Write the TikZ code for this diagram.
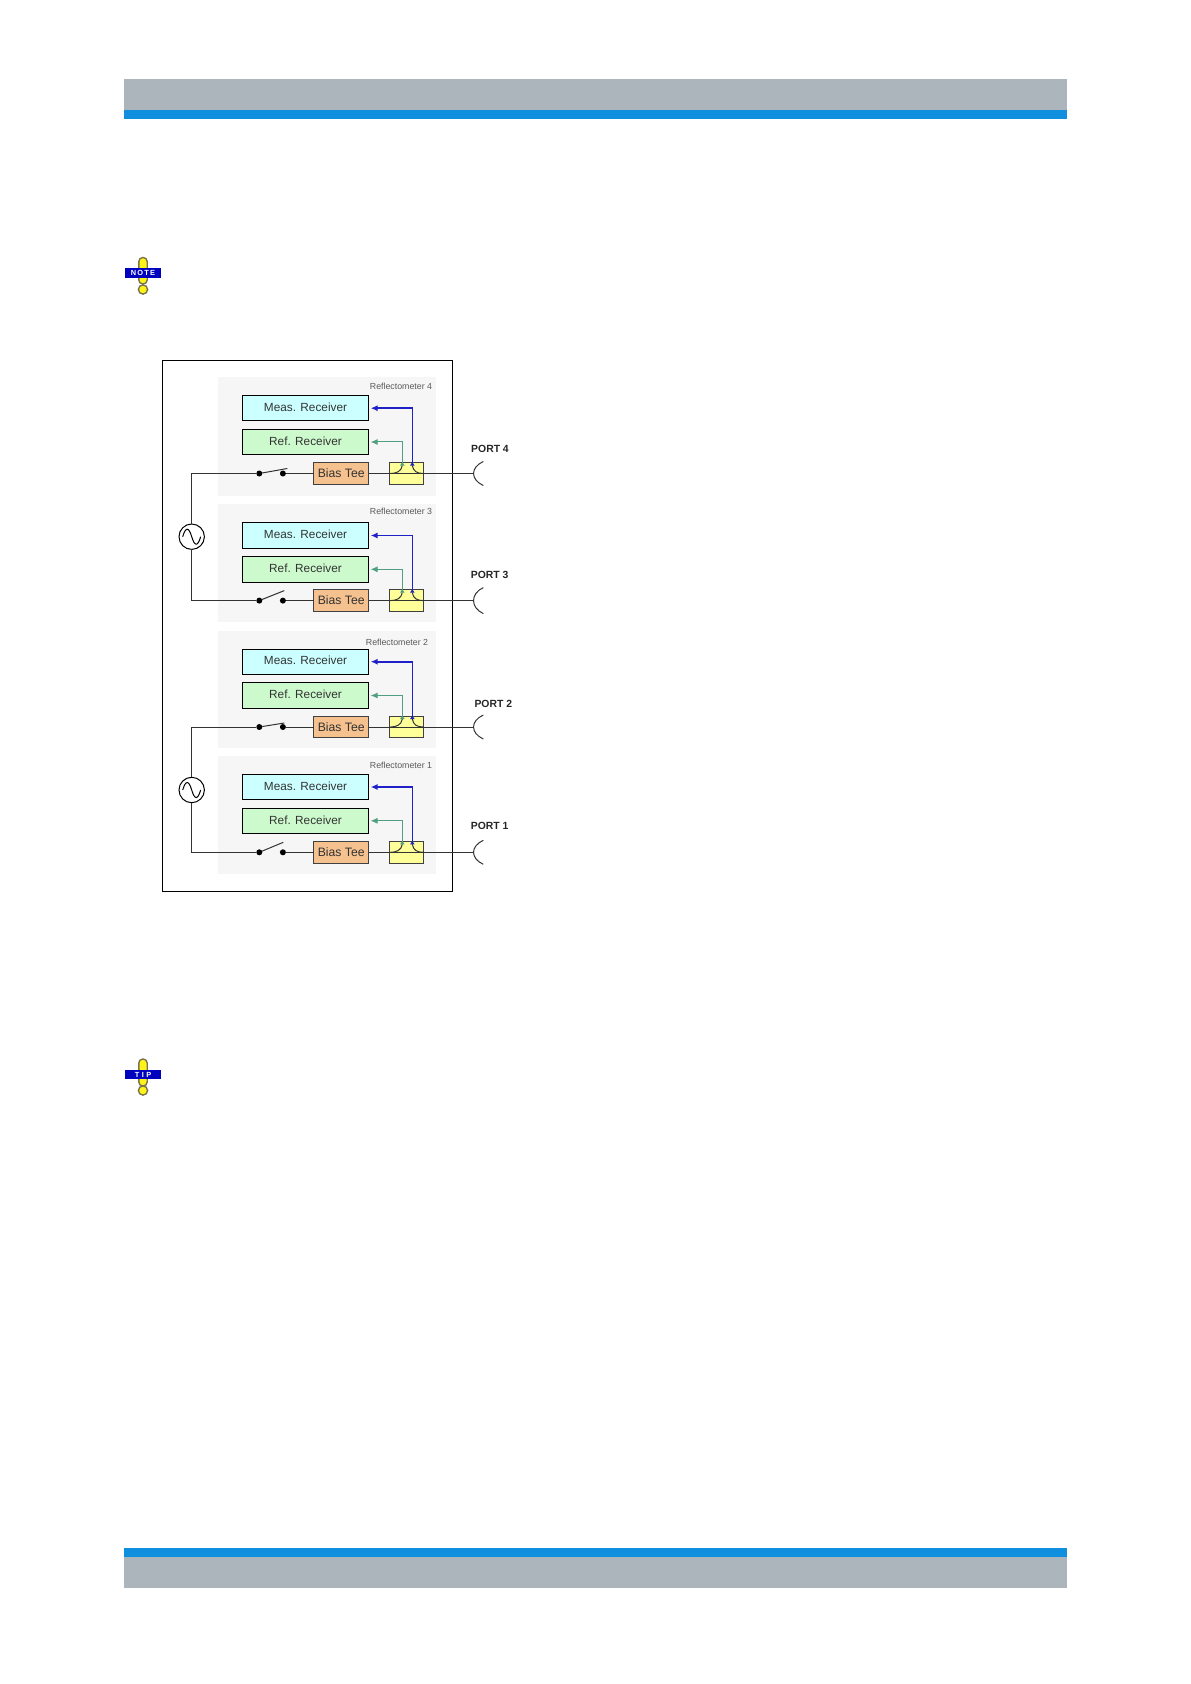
\documentclass[tikz,border=0pt]{standalone}
\usepackage{fontspec}
\setmainfont{Liberation Sans}
\usepackage{tikz}
\usetikzlibrary{arrows.meta,positioning}
\definecolor{headgrey}{HTML}{ADB5BC}
\definecolor{headblue}{HTML}{0F8FDD}
\definecolor{panelgrey}{HTML}{F6F6F6}
\definecolor{measfill}{HTML}{CCFFFF}
\definecolor{reffill}{HTML}{CDFACD}
\definecolor{teefill}{HTML}{F5C18E}
\definecolor{couplerfill}{HTML}{FFFF99}
\definecolor{bluearr}{HTML}{2020C8}
\definecolor{greenarr}{HTML}{4F9F80}
\definecolor{wirecol}{HTML}{333333}
\tikzset{
  recv/.style={draw=black, line width=0.5pt, outer sep=0pt, inner sep=0pt, text=black!80, text depth=1pt,
               font=\fontsize{5.9}{7}\selectfont, minimum width=63.2pt, minimum height=12.7pt},
  meas/.style={recv, fill=measfill},
  refr/.style={recv, fill=reffill},
  tee/.style={draw=black!75, line width=0.5pt, outer sep=0pt, inner sep=0pt, fill=teefill, text=black!80,
              font=\fontsize{6.1}{7}\selectfont, minimum width=27.5pt, minimum height=10.8pt},
  coupler/.style={draw=black!75, line width=0.5pt, outer sep=0pt, fill=couplerfill, minimum width=17pt, minimum height=10.8pt},
  dot/.style={circle, fill=black, inner sep=0pt, minimum size=3pt, outer sep=0pt},
  source/.style={circle, draw=black, fill=white, line width=0.5pt, minimum size=12.7pt, inner sep=0pt, outer sep=0pt},
  wire/.style={draw=wirecol, line width=0.5pt},
  barr/.style={draw=bluearr, line width=0.8pt, {Latex[reversed,length=2pt,width=2.4pt]}-{Latex[length=3.4pt,width=3pt]}, shorten >=1pt},
  garr/.style={draw=greenarr, line width=0.5pt, {Latex[reversed,length=2pt,width=2.4pt]}-{Latex[length=3.4pt,width=3pt]}, shorten >=1pt},
  reflabel/.style={text=black!65, font=\fontsize{4.4}{5}\selectfont, inner sep=0pt},
  portlabel/.style={text=black!85, font=\bfseries\fontsize{5.2}{6}\selectfont, inner sep=0pt},
  iconpart/.style={draw=black!60!yellow, fill=yellow!90!white, line width=0.7pt},
  iconbar/.style={fill=blue!75!black, text=white, inner sep=0pt, outer sep=0pt,
                  font=\bfseries\fontsize{3.7}{4}\selectfont, minimum width=18pt, minimum height=4.9pt}
}
\begin{document}
\begin{tikzpicture}[x=0.5pt, y=-0.5pt]
    \useasboundingbox (0,0) rectangle (1190,1684);
    % header and footer
    \fill[headgrey] (124,79) rectangle (1067,110);
    \fill[headblue] (124,110) rectangle (1067,119);
    \fill[headblue] (124,1548) rectangle (1067,1557);
    \fill[headgrey] (124,1557) rectangle (1067,1588);
    % note icon
    \draw[iconpart, rounded corners=2pt] (138.8,257.5) rectangle (147.2,284);
    \draw[iconpart] (143,289.5) circle (4.6);
    \node[iconbar] (note) at (143,273) {N\,O\,T\,E};
    % tip icon
    \draw[iconpart, rounded corners=2pt] (138.8,1059) rectangle (147.2,1086);
    \draw[iconpart] (143,1090.5) circle (4.6);
    \node[iconbar] (tip) at (143,1074.5) {T\,\,I\,\,P};
    % instrument frame and panels
    \draw[black, line width=0.5pt] (162.7,360.3) rectangle (452.7,891);
    \fill[panelgrey] (218,377) rectangle (436,496);
    \fill[panelgrey] (218,504) rectangle (436,622);
    \fill[panelgrey] (218,631) rectangle (436,748);
    \fill[panelgrey] (218,756) rectangle (436,874);
    \node[reflabel] (rl4) at (401,386.7) {Reflectometer 4};
    \node[reflabel] (rl3) at (401,511.7) {Reflectometer 3};
    \node[reflabel] (rl2) at (397,642.3) {Reflectometer 2};
    \node[reflabel] (rl1) at (401,765.3) {Reflectometer 1};
    % reflectometer 4
    \node[meas] (M4) at (305.5,408.2) {Meas. Receiver};
    \node[refr, below=4.2pt of M4] (R4) {Ref. Receiver};
    \node[tee] (B4) at (341.2,473.5) {Bias Tee};
    \node[coupler, right=10.3pt of B4] (C4) {};
    \node[dot] (SL4) at (259.3,473.5) {};
    \node[dot, right=8.8pt of SL4] (SR4) {};
    \coordinate (P4) at (473.3,473.5);
    \coordinate (G4) at (402.3,465.5);
    \coordinate (H4) at (412.3,465.5);
    % reflectometer 3
    \node[meas] (M3) at (305.5,535.5) {Meas. Receiver};
    \node[refr, below=4.2pt of M3] (R3) {Ref. Receiver};
    \node[tee] (B3) at (341.2,600.6) {Bias Tee};
    \node[coupler, right=10.3pt of B3] (C3) {};
    \node[dot] (SL3) at (259.3,600.6) {};
    \node[dot, right=8.8pt of SL3] (SR3) {};
    \coordinate (P3) at (473.3,600.6);
    \coordinate (G3) at (402.3,592.6);
    \coordinate (H3) at (412.3,592.6);
    % reflectometer 2
    \node[meas] (M2) at (305.5,661.7) {Meas. Receiver};
    \node[refr, below=4.2pt of M2] (R2) {Ref. Receiver};
    \node[tee] (B2) at (341.2,727) {Bias Tee};
    \node[coupler, right=10.3pt of B2] (C2) {};
    \node[dot] (SL2) at (259.3,727) {};
    \node[dot, right=8.8pt of SL2] (SR2) {};
    \coordinate (P2) at (473.3,727);
    \coordinate (G2) at (402.3,719);
    \coordinate (H2) at (412.3,719);
    % reflectometer 1
    \node[meas] (M1) at (305.5,787) {Meas. Receiver};
    \node[refr, below=4.2pt of M1] (R1) {Ref. Receiver};
    \node[tee] (B1) at (341.2,852.3) {Bias Tee};
    \node[coupler, right=10.3pt of B1] (C1) {};
    \node[dot] (SL1) at (259.3,852.3) {};
    \node[dot, right=8.8pt of SL1] (SR1) {};
    \coordinate (P1) at (473.3,852.3);
    \coordinate (G1) at (402.3,844.3);
    \coordinate (H1) at (412.3,844.3);
    % sources
    \node[source] (S34) at (191.7,536.7) {};
    \node[source] (S12) at (191.7,790) {};
    \draw[wire] (S34) |- (SL4);
    \draw[wire] (S34) |- (SL3);
    \draw[wire] (S12) |- (SL2);
    \draw[wire] (S12) |- (SL1);
    \draw[black, line width=0.5pt] (S34.center) ++(-9,0) .. controls +(3,-10) and +(-3,-10) .. ++(9,0) .. controls +(3,10) and +(-3,10) .. ++(9,0);
    \draw[black, line width=0.5pt] (S12.center) ++(-9,0) .. controls +(3,-10) and +(-3,-10) .. ++(9,0) .. controls +(3,10) and +(-3,10) .. ++(9,0);
    % switches, closed on top, open below
    \draw[wire] (SL4) -- ++(28,-5);
    \draw[wire] (SR4) -- (B4);
    \draw[wire] (SL3) -- ++(25,-10);
    \draw[wire] (SR3) -- (B3);
    \draw[wire] (SL2) -- ++(25,-4);
    \draw[wire] (SR2) -- (B2);
    \draw[wire] (SL1) -- ++(24,-10);
    \draw[wire] (SR1) -- (B1);
    % lines to ports
    \draw[wire] (B4) -- (P4);
    \draw[wire] (B3) -- (P3);
    \draw[wire] (B2) -- (P2);
    \draw[wire] (B1) -- (P1);
    \draw[wire] (P4) ++(10,-12) .. controls +(-13,6) and +(-13,-6) .. ++(0,24);
    \draw[wire] (P3) ++(10,-13) .. controls +(-13,6) and +(-13,-6) .. ++(0,26);
    \draw[wire] (P2) ++(10,-12) .. controls +(-13,6) and +(-13,-6) .. ++(0,24);
    \draw[wire] (P1) ++(10,-12) .. controls +(-13,6) and +(-13,-6) .. ++(0,24);
    % coupled arms
    \draw[wire] (G4) .. controls +(-1,6) and +(6,0) .. ++(-12,8);
    \draw[wire] (H4) .. controls +(1,6) and +(-6,0) .. ++(11,8);
    \draw[wire] (G3) .. controls +(-1,6) and +(6,0) .. ++(-12,8);
    \draw[wire] (H3) .. controls +(1,6) and +(-6,0) .. ++(11,8);
    \draw[wire] (G2) .. controls +(-1,6) and +(6,0) .. ++(-12,8);
    \draw[wire] (H2) .. controls +(1,6) and +(-6,0) .. ++(11,8);
    \draw[wire] (G1) .. controls +(-1,6) and +(6,0) .. ++(-12,8);
    \draw[wire] (H1) .. controls +(1,6) and +(-6,0) .. ++(11,8);
    \draw[garr] (G4) |- (R4);
    \draw[barr] (H4) |- (M4);
    \draw[garr] (G3) |- (R3);
    \draw[barr] (H3) |- (M3);
    \draw[garr] (G2) |- (R2);
    \draw[barr] (H2) |- (M2);
    \draw[garr] (G1) |- (R1);
    \draw[barr] (H1) |- (M1);
    % port labels
    \node[portlabel] (PL4) at (490,449) {PORT 4};
    \node[portlabel] (PL3) at (489.7,575.3) {PORT 3};
    \node[portlabel] (PL2) at (493.3,704) {PORT 2};
    \node[portlabel] (PL1) at (489.7,826) {PORT 1};
  \end{tikzpicture}
\end{document}
